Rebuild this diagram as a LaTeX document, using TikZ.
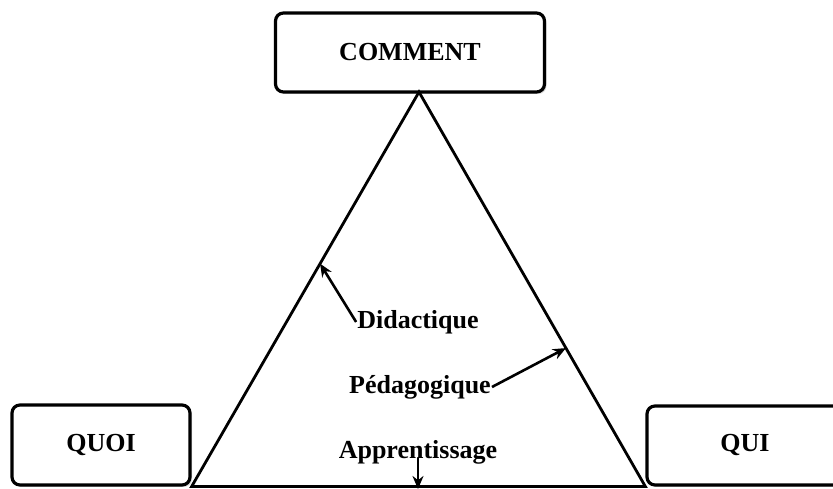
\documentclass[tikz,border=0pt]{standalone}
\usepackage{fontspec}
\setmainfont{Liberation Serif}
\usetikzlibrary{arrows.meta, positioning, calc, shadows}

\begin{document}
\begin{tikzpicture}[x=1pt, y=1pt,
    pole/.style={rectangle, rounded corners=8pt, draw=black, line width=3.2pt, fill=white,
      drop shadow={shadow xshift=2pt, shadow yshift=-2pt, fill=gray!55},
      font=\fontsize{26}{30}\selectfont\bfseries},
    lbl/.style={font=\fontsize{26}{30}\selectfont\bfseries, inner sep=1pt},
    side/.style={line width=2.8pt, line join=miter},
    arr/.style={-{Stealth[length=13pt, width=11pt]}, line width=2.6pt}]

  \useasboundingbox (0,0) rectangle (833,489);

  % the three poles
  \node[pole, minimum width=269, minimum height=79] (comment) at (410, 436.5) {COMMENT};
  \node[pole, minimum width=178, minimum height=80] (quoi) at (101, 44) {QUOI};
  \node[pole, minimum width=196, minimum height=79] (qui) at (745, 43.5) {QUI};

  % triangle
  \coordinate (apex) at (419, 397);
  \draw[side] (quoi.south east) -- (apex) -- (qui.south west) -- cycle;

  % labels inside
  \node[lbl] (didac) at (418, 167) {Didactique};
  \node[lbl] (peda) at (420, 102) {Pédagogique};
  \node[lbl] (appr) at (418, 37) {Apprentissage};

  % arrows towards the sides
  \coordinate (didactip) at ($(quoi.south east)!0.565!(apex)$);
  \coordinate (pedatip) at ($(qui.south west)!0.351!(apex)$);
  \coordinate (apprtip) at (418, 0);
  \draw[arr] (didac.west) -- (didactip);
  \draw[arr] (peda.east) -- (pedatip);
  \draw[arr] (appr.base) -- (apprtip);
\end{tikzpicture}
\end{document}
